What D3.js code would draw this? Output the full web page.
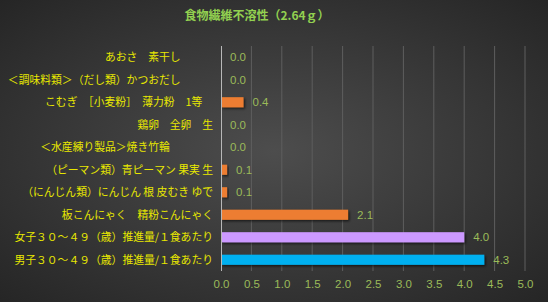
<!DOCTYPE html>
<html>
<head>
<meta charset="utf-8">
<script src="https://cdn.jsdelivr.net/npm/d3@7"></script>
<style>
  html, body { margin: 0; padding: 0; background: #2b2b2b; }
  svg { display: block; }
</style>
</head>
<body>
<div id="chart"></div>
<script>
const categories = [
    'あおさ　素干し　　　',
    '＜調味料類＞（だし類）かつおだし　　　',
    'こむぎ　［小麦粉］　薄力粉　1等　',
    '鶏卵　全卵　生',
    '＜水産練り製品＞焼き竹輪　　　　',
    '（ピーマン類）青ピーマン 果実 生',
    '（にんじん類）にんじん 根 皮むき ゆで',
    '板こんにゃく　精粉こんにゃく',
    '女子３０～４９（歳）推進量/１食あたり',
    '男子３０～４９（歳）推進量/１食あたり'
];
const values = [0.0, 0.0, 0.37, 0.0, 0.0, 0.1, 0.1, 2.09, 4.0, 4.33];
const valueLabels = ['0.0', '0.0', '0.4', '0.0', '0.0', '0.1', '0.1', '2.1', '4.0', '4.3'];
const barColors = ['#ed7d31', '#ed7d31', '#ed7d31', '#ed7d31', '#ed7d31', '#ed7d31', '#ed7d31', '#ed7d31', '#cc99ff', '#00b0f0'];
const xTicks = [0, 0.5, 1, 1.5, 2, 2.5, 3, 3.5, 4, 4.5, 5];
const title = '食物繊維不溶性（2.64ｇ）';

const width = 548, height = 302;
const margin = { top: 46, right: 23, bottom: 31, left: 221 };

const svg = d3.select('#chart').append('svg')
    .attr('width', width)
    .attr('height', height);

const defs = svg.append('defs');
const grad = defs.append('radialGradient')
    .attr('id', 'bg')
    .attr('cx', '50%').attr('cy', '50%').attr('r', '75%');
grad.append('stop').attr('offset', '0%').attr('stop-color', '#4d4d4d');
grad.append('stop').attr('offset', '100%').attr('stop-color', '#232323');

const shadow = defs.append('filter').attr('id', 'shadow')
    .attr('x', '-10%').attr('y', '-30%').attr('width', '130%').attr('height', '180%');
shadow.append('feDropShadow')
    .attr('dx', 1.5).attr('dy', 1.5).attr('stdDeviation', 1)
    .attr('flood-color', '#000').attr('flood-opacity', 0.6);

svg.append('rect')
    .attr('width', width).attr('height', height)
    .attr('fill', 'url(#bg)');

svg.append('text')
    .attr('x', 257)
    .attr('y', 20)
    .attr('text-anchor', 'middle')
    .attr('fill', '#92d050')
    .style('font-family', '"Noto Sans CJK JP", sans-serif')
    .style('font-size', '12px')
    .style('font-weight', 'bold')
    .text(title);

const x = d3.scaleLinear()
    .domain([0, 5])
    .range([margin.left, width - margin.right]);

const y = d3.scaleBand()
    .domain(categories)
    .range([margin.top, height - margin.bottom])
    .paddingInner(0.55)
    .paddingOuter(0.275);

// gridlines
svg.append('g')
    .selectAll('line')
    .data(xTicks.slice(1))
    .join('line')
    .attr('x1', d => x(d)).attr('x2', d => x(d))
    .attr('y1', margin.top).attr('y2', height - margin.bottom)
    .attr('stroke', '#5e5e5e')
    .attr('stroke-width', 1);

// bars
svg.append('g')
    .selectAll('rect')
    .data(values)
    .join('rect')
    .attr('x', x(0))
    .attr('y', (d, i) => y(categories[i]))
    .attr('width', d => x(d) - x(0))
    .attr('height', y.bandwidth())
    .attr('fill', (d, i) => barColors[i])
    .attr('filter', 'url(#shadow)');

// axis line
svg.append('line')
    .attr('x1', x(0) + 0.5).attr('x2', x(0) + 0.5)
    .attr('y1', margin.top).attr('y2', height - margin.bottom)
    .attr('stroke', '#b8b8b8');

// value labels
svg.append('g')
    .selectAll('text')
    .data(values)
    .join('text')
    .attr('x', d => x(d) + 9)
    .attr('y', (d, i) => y(categories[i]) + y.bandwidth() / 2)
    .attr('dy', '0.35em')
    .attr('fill', '#9bbb59')
    .style('font-family', '"Liberation Sans", Arial, sans-serif')
    .style('font-size', '11.5px')
    .text((d, i) => valueLabels[i]);

// category labels
svg.append('g')
    .selectAll('text')
    .data(categories)
    .join('text')
    .attr('x', margin.left - 8)
    .attr('y', d => y(d) + y.bandwidth() / 2)
    .attr('dy', '0.35em')
    .attr('text-anchor', 'end')
    .attr('fill', '#e8e800')
    .style('font-family', '"Noto Sans CJK JP", sans-serif')
    .style('font-size', '10.8px')
    .style('white-space', 'pre')
    .text(d => d);

// x axis tick labels
const xAxis = d3.axisBottom(x)
    .tickValues(xTicks)
    .tickFormat(d3.format('.1f'))
    .tickSize(0)
    .tickPadding(9);

const gx = svg.append('g')
    .attr('transform', `translate(0,${height - margin.bottom})`)
    .call(xAxis);
gx.select('.domain').remove();
gx.selectAll('text')
    .attr('fill', '#9bbb59')
    .style('font-family', '"Liberation Sans", Arial, sans-serif')
    .style('font-size', '11.5px');
</script>
</body>
</html>
